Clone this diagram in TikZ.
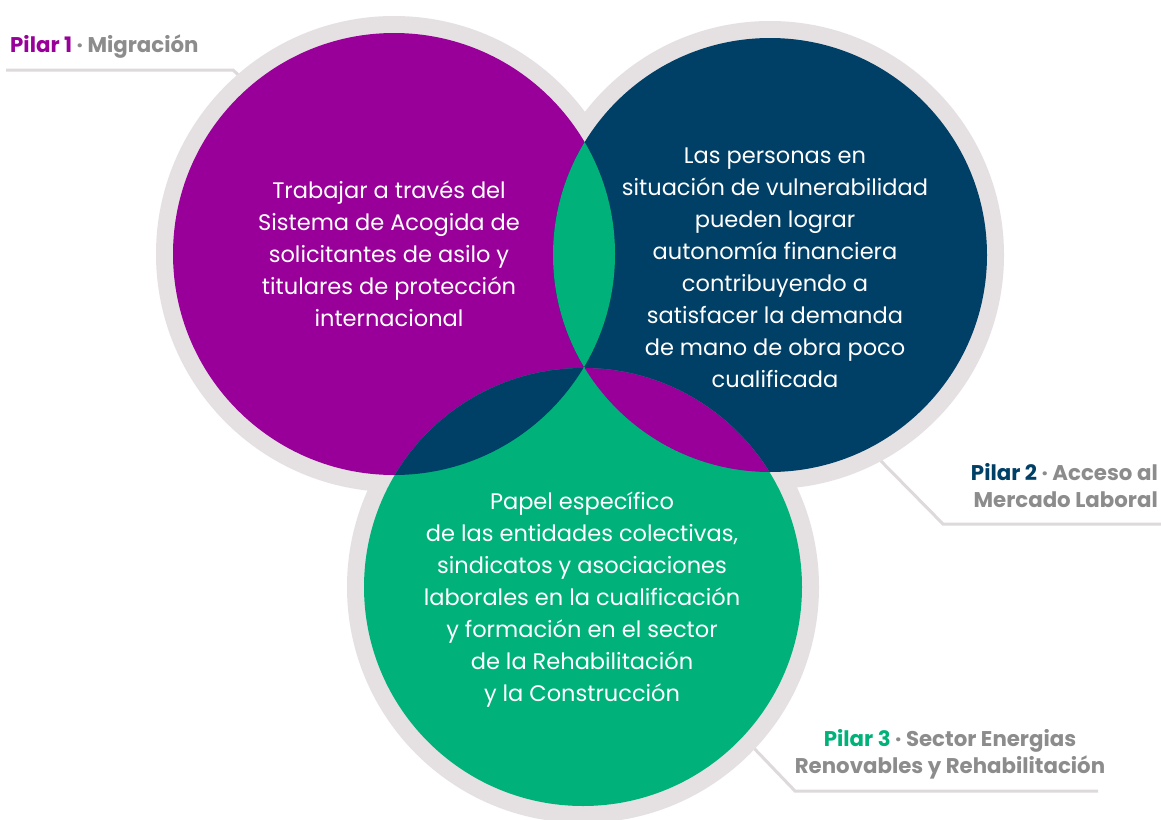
\documentclass[tikz,border=0pt]{standalone}
\usepackage{fontspec}
\setmainfont{Poppins}
\definecolor{pur}{HTML}{990099}
\definecolor{nav}{HTML}{003F66}
\definecolor{grn}{HTML}{00B27A}
\definecolor{rim}{HTML}{E5E1E3}
\definecolor{lead}{HTML}{DEDADC}
\definecolor{lbl}{HTML}{8C8C8C}
\begin{document}
\begin{tikzpicture}[x=1pt,y=-1pt,
  bodytext/.style={text=white,align=center,font=\fontsize{22.5}{32}\selectfont,inner sep=0pt},
  pilartext/.style={text=lbl,font=\fontsize{21.3}{27}\selectfont\bfseries,inner sep=0pt},
  leader/.style={draw=lead,line width=3pt}]
\useasboundingbox (0,0) rectangle (1161,819);
\fill[white] (0,0) rectangle (1161,819);
\def\ra{221}\def\rb{217}\def\rc{219}
\coordinate (c1) at (394,254);
\coordinate (c2) at (770,255);
\coordinate (c3) at (583,587);
% leader lines
\coordinate (l1a) at (6,70); \coordinate (l1b) at (233,70); \coordinate (l1c) at (248,84);
\coordinate (l2a) at (1161,524); \coordinate (l2b) at (943,524); \coordinate (l2c) at (876,456);
\coordinate (l3a) at (1098,791); \coordinate (l3b) at (795,791); \coordinate (l3c) at (748,742);
\draw[leader] (l1a) -- (l1b) -- (l1c);
\draw[leader] (l2a) -- (l2b) -- (l2c);
\draw[leader] (l3a) -- (l3b) -- (l3c);
% rims
\fill[rim] (c1) circle[radius=\ra pt+17pt];
\fill[rim] (c2) circle[radius=\rb pt+17pt];
\fill[rim] (c3) circle[radius=\rc pt+17pt];
% discs
\fill[pur] (c1) circle[radius=\ra pt];
\fill[nav] (c2) circle[radius=\rb pt];
\fill[grn] (c3) circle[radius=\rc pt];
\begin{scope}
  \clip (c1) circle[radius=\ra pt];
  \fill[grn] (c2) circle[radius=\rb pt];
  \fill[nav] (c3) circle[radius=\rc pt];
\end{scope}
\begin{scope}
  \clip (c2) circle[radius=\rb pt];
  \fill[pur] (c3) circle[radius=\rc pt];
  \clip (c1) circle[radius=\ra pt];
  \fill[grn] (c3) circle[radius=\rc pt];
\end{scope}
% texts
\node[bodytext] (t1) at (389,254) {Trabajar a través del\\Sistema de Acogida de\\solicitantes de asilo y\\titulares de protección\\internacional};
\node[bodytext] (t2) at (775,268) {Las personas en\\situación de vulnerabilidad\\pueden lograr\\autonomía financiera\\contribuyendo a\\satisfacer la demanda\\de mano de obra poco\\cualificada};
\node[bodytext] (t3) at (582,600) {Papel específico\\de las entidades colectivas,\\sindicatos y asociaciones\\laborales en la cualificación\\y formación en el sector\\de la Rehabilitación\\y la Construcción};
\node[pilartext,anchor=west] (p1) at (10,47) {\textcolor{pur}{Pilar 1} · Migración};
\node[pilartext,align=right,anchor=east] (p2) at (1158,486) {\textcolor{nav}{Pilar 2} · Acceso al\\Mercado Laboral};
\node[pilartext,align=center] (p3) at (950,754) {\textcolor{grn}{Pilar 3} · Sector Energias\\Renovables y Rehabilitación};
\end{tikzpicture}
\end{document}
